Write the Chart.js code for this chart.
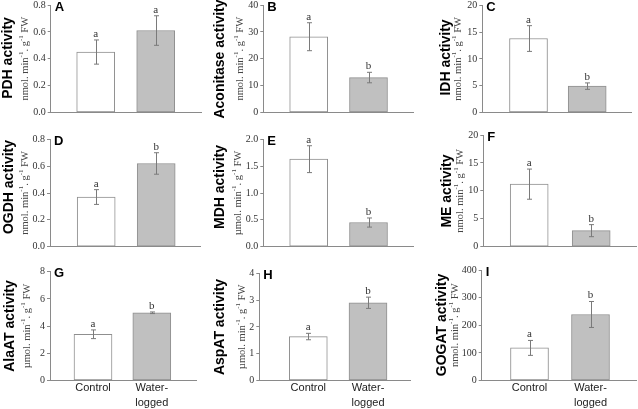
<!DOCTYPE html>
<html lang="en">
<head>
<meta charset="UTF-8">
<title>Enzyme activities</title>
<script src="https://cdn.jsdelivr.net/npm/chart.js"></script>
<style>
  body { margin: 0; background: #fff; }
  #wrap { position: relative; width: 638px; height: 409px; overflow: hidden; }
  #wrap canvas { position: absolute; }
</style>
</head>
<body>
<div id="wrap"></div>
<script>
// treatments on the x axis
const categories = ['Control', ['Water-', 'logged']];

// one entry per panel, A to I
const panelLetters = ['A', 'B', 'C', 'D', 'E', 'F', 'G', 'H', 'I'];
const enzymes = ['PDH', 'Aconitase', 'IDH', 'OGDH', 'MDH', 'ME', 'AlaAT', 'AspAT', 'GOGAT'];
const unitPrefix = ['nmol', 'nmol', 'nmol', 'nmol', 'µmol', 'nmol', 'µmol', 'µmol', 'nmol'];

const controlMean = [0.45, 28.2, 13.8, 0.37, 1.63, 11.2, 3.40, 1.64, 118];
const controlErr  = [0.09, 5.2, 2.4, 0.055, 0.25, 2.7, 0.32, 0.12, 27];
const waterMean   = [0.61, 13.0, 4.92, 0.62, 0.45, 2.87, 4.98, 2.90, 239];
const waterErr    = [0.11, 1.95, 0.6, 0.08, 0.085, 1.08, 0.06, 0.21, 47];
const controlSig  = ['a', 'a', 'a', 'a', 'a', 'a', 'a', 'a', 'a'];
const waterSig    = ['a', 'b', 'b', 'b', 'b', 'b', 'b', 'b', 'b'];

// y axis range and tick step per panel
const yMax  = [0.8, 40, 20, 0.8, 2.0, 20, 8, 4, 400];
const yStep = [0.2, 10, 5, 0.2, 0.5, 5, 2, 1, 100];

// page layout: cell [x, y, w, h], plot area [left, top, right, bottom],
// bar centres [control, waterlogged], title x, units x, title y
const cells = [
  [0, 0, 210, 128], [210, 0, 210, 128], [420, 0, 218, 128],
  [0, 128, 210, 130], [210, 128, 210, 130], [420, 128, 218, 130],
  [0, 258, 210, 151], [210, 258, 210, 151], [420, 258, 218, 151]
];
const plots = [
  [50.7, 5, 201, 112.5], [263.3, 5, 413, 112.5], [482.3, 5.3, 631, 112.5],
  [50, 139.3, 200, 246.7], [263.3, 139.3, 413, 246.7], [483.3, 135, 636.7, 246.7],
  [50, 271.7, 196.7, 380.5], [259.3, 273.3, 410, 380.5], [481.7, 270, 636.7, 380.5]
];
const barCentres = [
  [95.7, 155.7], [308.7, 368.5], [528.5, 587.2],
  [96.2, 156.2], [308.7, 368.5], [529.2, 591.2],
  [93, 151.8], [308.3, 368], [529.5, 590.5]
];
const titleX = [8.5, 220.5, 445.8, 9.2, 220.5, 447.5, 10, 220.5, 442.5];
const unitsX = [25, 240, 458.3, 25, 238.3, 460, 27, 242.5, 455];
const titleY = [58, 59, 57.5, 187, 187, 191, 326, 327, 325];

const AXIS = '#8a8a8a';
const SANS = '"Liberation Sans", Arial, sans-serif';
const SERIF = '"Liberation Serif", "Times New Roman", serif';
const Y_W = 40;

function drawUnits(ctx, prefix, x, y) {
  const parts = [[prefix + '. min', 0], ['-1', 1], ['. g', 0], ['-1', 1], [' FW', 0]];
  const fonts = ['10.5px ' + SERIF, '7px ' + SERIF];
  let total = 0;
  parts.forEach(([t, s]) => { ctx.font = fonts[s]; total += ctx.measureText(t).width; });
  ctx.save();
  ctx.translate(x, y);
  ctx.rotate(-Math.PI / 2);
  ctx.fillStyle = '#444';
  ctx.textAlign = 'left';
  ctx.textBaseline = 'middle';
  let pos = -total / 2;
  parts.forEach(([t, s]) => {
    ctx.font = fonts[s];
    ctx.fillText(t, pos, s ? -4 : 0);
    pos += ctx.measureText(t).width;
  });
  ctx.restore();
}

const panelDecor = {
  id: 'panelDecor',
  afterDatasetsDraw(chart, args, opts) {
    const p = opts.index;
    const ctx = chart.ctx;
    const y = chart.scales.y;
    const bars = chart.getDatasetMeta(0).data;
    const means = [controlMean[p], waterMean[p]];
    const errs = [controlErr[p], waterErr[p]];
    const sig = [controlSig[p], waterSig[p]];
    ctx.save();
    bars.forEach((bar, k) => {
      const x = Math.round(bar.x) + 0.5;
      const top = y.getPixelForValue(means[k] + errs[k]);
      const bot = y.getPixelForValue(means[k] - errs[k]);
      ctx.strokeStyle = '#7a7a7a';
      ctx.lineWidth = 1;
      ctx.beginPath();
      ctx.moveTo(x, top); ctx.lineTo(x, bot);
      ctx.moveTo(x - 2.5, top); ctx.lineTo(x + 2.5, top);
      ctx.moveTo(x - 2.5, bot); ctx.lineTo(x + 2.5, bot);
      ctx.stroke();
      ctx.fillStyle = '#333';
      ctx.font = '11px ' + SERIF;
      ctx.textAlign = 'center';
      ctx.textBaseline = 'alphabetic';
      ctx.fillText(sig[k], bar.x, top - 3);
    });
    ctx.restore();
  },
  afterDraw(chart, args, opts) {
    const p = opts.index;
    const ctx = chart.ctx;
    const [x0, y0] = cells[p];
    const [L, T, , B] = plots[p];
    ctx.save();
    // bold axis title
    ctx.translate(titleX[p] - x0, titleY[p] - y0);
    ctx.rotate(-Math.PI / 2);
    ctx.font = 'bold 14px ' + SANS;
    ctx.fillStyle = '#000';
    ctx.textAlign = 'center';
    ctx.textBaseline = 'middle';
    ctx.fillText(enzymes[p] + ' activity', 0, 0);
    ctx.restore();
    drawUnits(ctx, unitPrefix[p], unitsX[p] - x0, (T + B) / 2 - y0);
    // panel letter
    ctx.save();
    ctx.font = 'bold 13px ' + SANS;
    ctx.fillStyle = '#000';
    ctx.textAlign = 'left';
    ctx.textBaseline = 'middle';
    ctx.fillText(panelLetters[p], L + 4 - x0, T + 2 - y0);
    ctx.restore();
  }
};

const wrap = document.getElementById('wrap');

panelLetters.forEach((letter, p) => {
  const [x0, y0, w, h] = cells[p];
  const [L, T, R, B] = plots[p];
  const [c0, c1] = barCentres[p];
  const bottomRow = p >= 6;
  const xh = bottomRow ? 28 : 0;

  const canvas = document.createElement('canvas');
  canvas.width = w;
  canvas.height = h;
  canvas.style.left = x0 + 'px';
  canvas.style.top = y0 + 'px';
  canvas.style.width = w + 'px';
  canvas.style.height = h + 'px';
  wrap.appendChild(canvas);

  const unit = c1 - c0;
  new Chart(canvas.getContext('2d'), {
    type: 'bar',
    data: {
      datasets: [{
        data: [
          { x: 0, y: controlMean[p] },
          { x: 1, y: waterMean[p] }
        ],
        backgroundColor: ['#ffffff', '#c0c0c0'],
        borderColor: '#8f8f8f',
        borderWidth: 1,
        borderSkipped: false,
        barThickness: 38
      }]
    },
    options: {
      responsive: false,
      animation: false,
      devicePixelRatio: 1,
      layout: {
        padding: {
          left: L - x0 - Y_W,
          top: T - y0,
          right: x0 + w - R,
          bottom: y0 + h - B - xh
        }
      },
      plugins: {
        legend: { display: false },
        tooltip: { enabled: false },
        panelDecor: { index: p }
      },
      scales: {
        x: {
          type: 'linear',
          offset: false,
          bounds: 'data',
          min: -(c0 - L) / unit,
          max: (R - c0) / unit,
          grid: { display: false, offset: false, drawTicks: false, tickLength: 0 },
          border: { display: true, color: AXIS, width: 1 },
          afterBuildTicks: (scale) => { scale.ticks = [{ value: 0 }, { value: 1 }]; },
          afterFit: (scale) => {
            scale.height = xh;
            scale.paddingLeft = 0;
            scale.paddingRight = 0;
          },
          ticks: {
            display: bottomRow,
            padding: 0,
            color: '#222',
            font: { family: SANS, size: 11, lineHeight: 1.38 },
            maxRotation: 0,
            autoSkip: false,
            callback: (v) => categories[Math.round(v)]
          }
        },
        y: {
          min: 0,
          max: yMax[p],
          grid: {
            display: true,
            drawOnChartArea: false,
            drawTicks: true,
            tickLength: 3,
            color: AXIS
          },
          border: { display: true, color: AXIS, width: 1 },
          afterFit: (scale) => {
            scale.width = Y_W;
            scale.paddingTop = 0;
            scale.paddingBottom = 0;
          },
          ticks: {
            stepSize: yStep[p],
            padding: 2,
            color: '#333',
            font: { family: SERIF, size: 10 },
            callback: (v) => yStep[p] < 1 ? v.toFixed(1) : String(v)
          }
        }
      }
    },
    plugins: [panelDecor]
  });
});
</script>
</body>
</html>
